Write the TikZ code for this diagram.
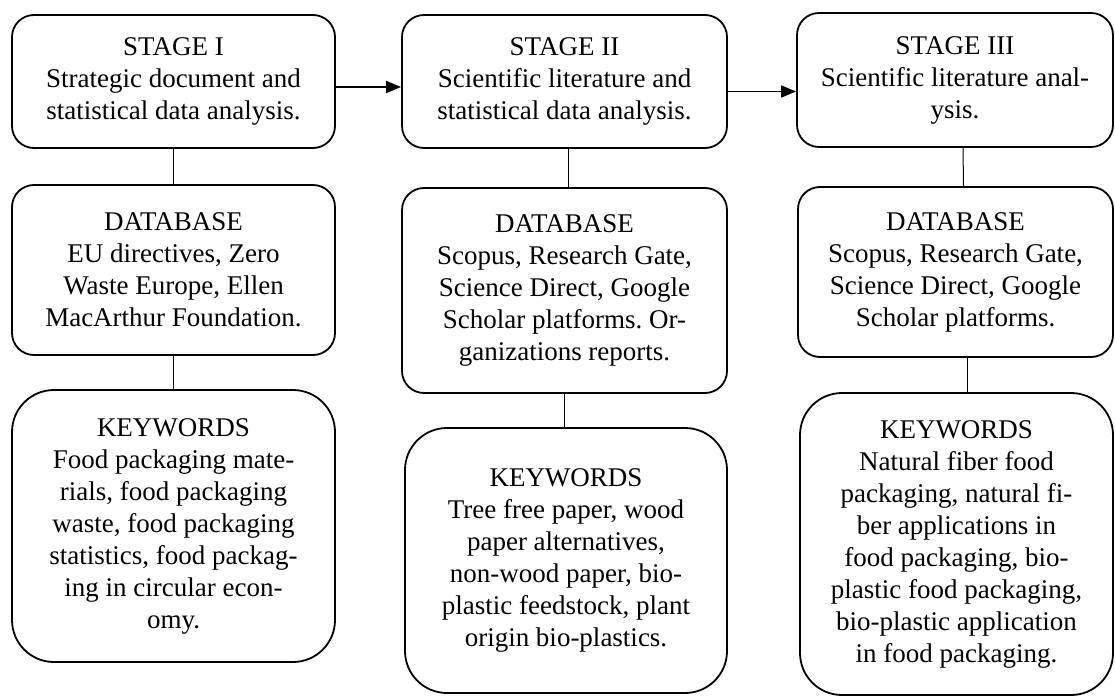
\documentclass[tikz,border=0pt]{standalone}
\usepackage{fontspec}
\setmainfont{Liberation Serif}
\usetikzlibrary{arrows.meta}
\frenchspacing
\tikzset{
  box/.style={draw=black, line width=1.8pt, inner sep=0pt, align=center,
    font=\fontsize{27}{32}\selectfont},
  sbox/.style={box, rounded corners=22pt},
  kbox/.style={box, rounded corners=42pt},
  link/.style={draw=black, line width=1pt},
  flow/.style={draw=black, line width=1.5pt, -{Triangle[length=15pt,width=12pt]}}
}
\begin{document}
\begin{tikzpicture}[x=1pt,y=1pt]
\useasboundingbox (0,0) rectangle (1115,-698);
% column 1
\node[sbox, minimum width=323pt, minimum height=133pt] (s1) at (173.5,-81.5)
  {STAGE I\\Strategic document and\\statistical data analysis.};
\node[sbox, minimum width=323pt, minimum height=170pt] (d1) at (173.5,-270)
  {DATABASE\\EU directives, Zero\\Waste Europe, Ellen\\MacArthur Foundation.};
\node[kbox, minimum width=323pt, minimum height=272pt] (k1) at (173.5,-526)
  {KEYWORDS\\Food packaging mate-\\rials, food packaging\\waste, food packaging\\statistics, food packag-\\ing in circular econ-\\omy.};
% column 2
\node[sbox, minimum width=325pt, minimum height=133pt] (s2) at (564.5,-81.5)
  {STAGE II\\Scientific literature and\\statistical data analysis.};
\node[sbox, minimum width=325pt, minimum height=205pt] (d2) at (564.5,-290.5)
  {DATABASE\\Scopus, Research Gate,\\Science Direct, Google\\Scholar platforms. Or-\\ganizations reports.};
\node[kbox, minimum width=322pt, minimum height=265pt] (k2) at (566,-560.5)
  {KEYWORDS\\Tree free paper, wood\\paper alternatives,\\non-wood paper, bio-\\plastic feedstock, plant\\origin bio-plastics.};
% column 3
\node[sbox, minimum width=316pt, minimum height=134pt] (s3) at (955,-80)
  {STAGE III\\Scientific literature anal-\\ysis.};
\node[sbox, minimum width=315pt, minimum height=170pt] (d3) at (955.5,-272)
  {DATABASE\\Scopus, Research Gate,\\Science Direct, Google\\Scholar platforms.};
\node[kbox, minimum width=313pt, minimum height=302pt] (k3) at (956.5,-544)
  {KEYWORDS\\Natural fiber food\\packaging, natural fi-\\ber applications in\\food packaging, bio-\\plastic food packaging,\\bio-plastic application\\in food packaging.};
% connectors
\draw[link] (s1.south) -- (d1.north);
\draw[link] (d1.south) -- (k1.north -| d1.south);
\draw[link] ([xshift=3.5pt]s2.south) -- ([xshift=3.5pt]d2.north);
\draw[link] (d2.south) -- (k2.north -| d2.south);
\draw[link] ([xshift=8pt]s3.south) -- ([xshift=8pt]d3.north);
\draw[link] ([xshift=11.5pt]d3.south) -- ([xshift=11.5pt]d3.south |- k3.north);
\draw[flow] ([yshift=-5.5pt]s1.east) -- ([yshift=-5.5pt]s1.east -| s2.west);
\draw[flow] ([yshift=-10pt]s2.east) -- ([yshift=-10pt]s2.east -| s3.west);
\end{tikzpicture}
\end{document}
